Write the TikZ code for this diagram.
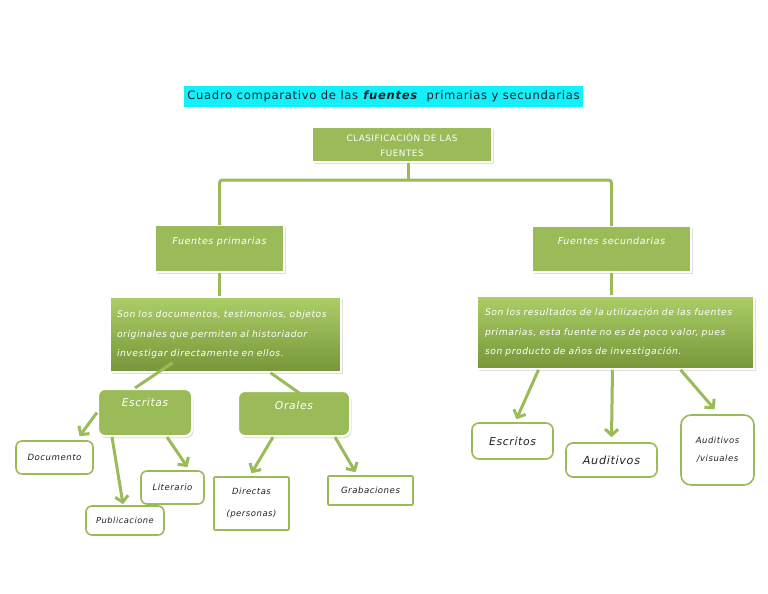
\documentclass[tikz,border=0pt]{standalone}
\usepackage{fontspec}
\usetikzlibrary{arrows.meta,shadows}
\newfontfamily\manus[LetterSpace=6]{DejaVu Sans}
\definecolor{verde}{RGB}{155,187,89}
\definecolor{verdeclaro}{RGB}{172,206,102}
\definecolor{verdeosc}{RGB}{118,150,58}
\definecolor{celeste}{RGB}{20,240,250}
\definecolor{tinta}{RGB}{34,34,40}

\begin{document}
\begin{tikzpicture}[x=1pt,y=-1pt,
	sombra/.style={drop shadow={shadow xshift=1.5pt,shadow yshift=-2pt,opacity=.25}},
	caja/.style={fill=verde,draw=white,line width=2pt,inner sep=0pt,text=white,sombra},
	desc/.style={top color=verdeclaro,bottom color=verdeosc,draw=white,line width=1.5pt,
		inner sep=0pt,text=white,sombra,align=left,font=\manus\itshape\fontsize{9.2}{19.5}\selectfont},
	hoja/.style={draw=verde,line width=1.6pt,fill=white,rounded corners=6pt,inner sep=0pt,
		text=tinta,font=\manus\itshape\fontsize{8.6}{10}\selectfont},
	linea/.style={draw=verde,line width=3pt},
	flecha/.style={linea,-{Straight Barb[length=6pt,width=13pt]}}]
	\useasboundingbox (0,0) rectangle (768,594);
	\fill[white] (0,0) rectangle (768,594);
	% titulo
	\node[fill=celeste,minimum width=399pt,minimum height=21pt,inner sep=0pt,text=tinta,
		font=\manus\fontsize{11.6}{13}\selectfont] (tit) at (383.5,96.5)
		{Cuadro comparativo de las \textbf{\textit{fuentes}}\ \ primarias y secundarias};
	\node[caja,minimum width=180pt,minimum height=35pt,align=center,
		font=\manus\fontsize{8.8}{15}\selectfont] (clas) at (402,144.5) {CLASIFICACIÓN DE LAS\\FUENTES};
	% fuentes
	\node[caja,anchor=north,minimum width=129pt,text height=19pt,text depth=28pt,
		font=\manus\itshape\fontsize{9.5}{11}\selectfont] (prim) at (219.5,224) {Fuentes primarias};
	\node[caja,anchor=north,minimum width=159pt,text height=18pt,text depth=28pt,
		font=\manus\itshape\fontsize{9.5}{11}\selectfont] (sec) at (611.5,225) {Fuentes secundarias};
	\node[desc,minimum width=231pt,minimum height=75pt,text width=217pt] (dl) at (225.5,334.5)
		{Son los documentos, testimonios, objetos\\originales que permiten al historiador\\investigar directamente en ellos.};
	\node[desc,minimum width=277pt,minimum height=73pt,text width=261pt] (dr) at (615.5,332.5)
		{Son los resultados de la utilización de las fuentes\\primarias, esta fuente no es de poco valor, pues\\son producto de años de investigación.};
	% escritas y orales
	\node[caja,rounded corners=7pt,anchor=north,minimum width=94pt,text height=17pt,text depth=30pt,
		font=\manus\itshape\fontsize{10.7}{12}\selectfont] (escr) at (145,388) {Escritas};
	\node[caja,rounded corners=7pt,anchor=north,minimum width=112pt,text height=18pt,text depth=27pt,
		font=\manus\itshape\fontsize{10.8}{12}\selectfont] (oral) at (294,390) {Orales};
	% hojas
	\node[hoja,minimum width=77pt,minimum height=33pt] (doc) at (54.5,457.5) {Documento};
	\node[hoja,minimum width=63pt,minimum height=33pt] (lit) at (172.5,487.5) {Literario};
	\node[hoja,minimum width=78pt,minimum height=29pt,font=\manus\itshape\fontsize{8.3}{10}\selectfont] (pub) at (125,520.5) {Publicacione};
	\node[hoja,rounded corners=1pt,minimum width=75pt,minimum height=53pt,align=center,
		font=\manus\itshape\fontsize{8.5}{22}\selectfont] (dir) at (251.5,503.5) {Directas\\(personas)};
	\node[hoja,rounded corners=1pt,minimum width=85pt,minimum height=29pt] (grab) at (370.5,490.5) {Grabaciones};
	\node[hoja,rounded corners=7pt,minimum width=81pt,minimum height=36pt,
		font=\manus\itshape\fontsize{10.8}{12}\selectfont] (escs) at (512.5,441) {Escritos};
	\node[hoja,rounded corners=7pt,minimum width=91pt,minimum height=34pt,
		font=\manus\itshape\fontsize{11.2}{13}\selectfont] (aud) at (611.5,460) {Auditivos};
	\node[hoja,rounded corners=10pt,minimum width=73pt,minimum height=70pt,align=center,
		font=\manus\itshape\fontsize{8.5}{18}\selectfont] (audv) at (717.5,450) {Auditivos\\/visuales};
	% conectores
	\coordinate (barra) at (408,180);
	\draw[linea] (clas.south -| barra) -- (barra);
	\draw[linea,rounded corners=3pt] ([yshift=-1pt]prim.north) |- (barra) -| ([yshift=-1pt]sec.north);
	\draw[linea] (prim.south) -- (prim.south |- dl.north);
	\draw[linea] (sec.south) -- (sec.south |- dr.north);
	\draw[linea] ([xshift=-53pt,yshift=10pt]dl.south) -- ([xshift=-10pt]escr.north);
	\draw[linea] ([xshift=45pt]dl.south) -- ([xshift=18pt,yshift=-12pt]oral.north);
	\draw[flecha] (escr.west) -- ([xshift=25pt,yshift=4pt]doc.north);
	\draw[flecha] ([xshift=-33pt]escr.south) -- ([xshift=-2pt,yshift=1pt]pub.north);
	\draw[flecha] ([xshift=22pt]escr.south) -- ([xshift=15pt,yshift=3pt]lit.north);
	\draw[flecha] ([xshift=-21pt]oral.south) -- ([yshift=3pt]dir.north);
	\draw[flecha] ([xshift=41pt]oral.south) -- ([xshift=-15pt,yshift=3pt]grab.north);
	\draw[flecha] ([xshift=-77pt]dr.south) -- ([xshift=4pt,yshift=3pt]escs.north);
	\draw[flecha] ([xshift=-3pt]dr.south) -- ([yshift=5pt]aud.north);
	\draw[flecha] ([xshift=65pt]dr.south) -- ([xshift=-3pt,yshift=5pt]audv.north);
\end{tikzpicture}
\end{document}
